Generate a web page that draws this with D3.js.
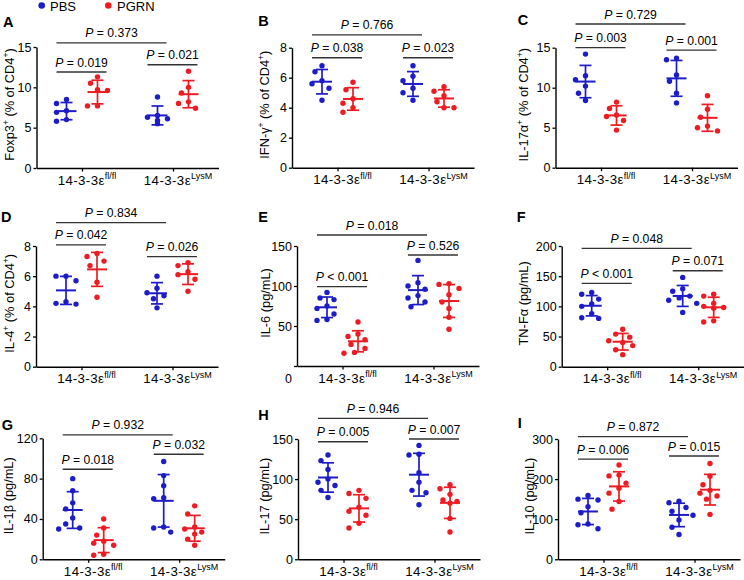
<!DOCTYPE html>
<html><head><meta charset="utf-8">
<script src="https://cdn.jsdelivr.net/npm/d3@7/dist/d3.min.js"></script>
<style>
body{margin:0;background:#fff}
svg{display:block}
text{font-family:"Liberation Sans",Arial,Helvetica,sans-serif;fill:#000}
</style>
</head><body>
<svg id="chart" width="744" height="580"></svg>
<script>
// ---------------- DATA ----------------
const series = ["PBS", "PGRN"];
const genotypes = [{base: "14-3-3ε", sup: "fl/fl"}, {base: "14-3-3ε", sup: "LysM"}];
const panelLetters = ["A", "B", "C", "D", "E", "F", "G", "H", "I"];
// y-axis titles as [text, isSuperscript] segments
const yTitles = [
  [["Foxp3", 0], ["+", 1], [" (% of CD4", 0], ["+", 1], [")", 0]],
  [["IFN-γ", 0], ["+", 1], [" (% of CD4", 0], ["+", 1], [")", 0]],
  [["IL-17α", 0], ["+", 1], [" (% of CD4", 0], ["+", 1], [")", 0]],
  [["IL-4", 0], ["+", 1], [" (% of CD4", 0], ["+", 1], [")", 0]],
  [["IL-6 (pg/mL)", 0]],
  [["TN-Fα (pg/mL)", 0]],
  [["IL-1β (pg/mL)", 0]],
  [["IL-17 (pg/mL)", 0]],
  [["IL-10 (pg/mL)", 0]]
];
const yTicks = [
  [0, 5, 10, 15], [0, 2, 4, 6, 8], [0, 5, 10, 15],
  [0, 2, 4, 6, 8], [0, 50, 100, 150], [0, 50, 100, 150, 200],
  [0, 40, 80, 120], [0, 50, 100, 150], [0, 100, 200, 300]
];
const pOverall = ["0.373", "0.766", "0.729", "0.834", "0.018", "0.048", "0.932", "0.946", "0.872"];
const pFlfl    = ["0.019", "0.038", "0.003", "0.042", "<0.001", "<0.001", "0.018", "0.005", "0.006"];
const pLysM    = ["0.021", "0.023", "0.001", "0.026", "0.526", "0.071", "0.032", "0.007", "0.015"];

// each: [PBS fl/fl, PGRN fl/fl, PBS LysM, PGRN LysM]
const foxp3 = [[8.5, 8.0, 7.1, 6.9, 6.0, 5.8], [11.3, 10.5, 9.7, 9.6, 7.7, 7.7],
               [8.8, 6.5, 6.3, 6.1, 5.9, 5.5], [12.0, 10.0, 9.3, 8.2, 8.0, 7.4]];
const ifng  = [[6.8, 6.4, 5.8, 5.6, 5.3, 4.5], [5.7, 5.2, 4.6, 4.3, 4.0, 3.7],
               [6.8, 6.1, 5.8, 5.3, 5.0, 4.5], [5.4, 5.1, 4.8, 4.4, 4.0, 4.0]];
const il17a = [[14.2, 11.5, 11.0, 10.2, 9.3, 8.4], [8.2, 7.4, 6.6, 6.4, 5.9, 4.7],
               [13.7, 13.5, 11.6, 10.8, 9.3, 8.1], [9.0, 7.3, 6.3, 5.2, 5.0, 4.6]];
const il4   = [[6.0, 6.0, 5.7, 4.3, 4.15, 4.2], [7.5, 7.3, 7.0, 6.7, 5.6, 4.6],
               [6.0, 5.2, 4.9, 4.7, 4.5, 3.9], [6.9, 6.7, 6.3, 6.1, 5.8, 5.0]];
const il6   = [[92, 85, 83, 75, 72, 65, 58, 57], [55, 40, 37, 33, 27, 22, 17, 16],
               [132, 104, 100, 96, 88, 85, 80, 74], [103, 102, 97, 89, 80, 72, 61, 46]];
const tnfa  = [[123, 120, 112, 104, 100, 88, 81, 80], [62, 54, 49, 43, 40, 35, 28, 20],
               [148, 129, 125, 117, 114, 110, 105, 90], [120, 117, 105, 100, 98, 97, 76, 74]];
const il1b  = [[80, 68, 56, 50, 41, 35, 31, 30], [40, 31, 24, 18, 16, 14, 5, 4],
               [97, 83, 73, 61, 60, 32, 31, 27], [53, 45, 32, 30, 27, 25, 20, 14]];
const il17  = [[130, 123, 112, 100, 96, 92, 86, 77], [86, 82, 76, 65, 60, 55, 45, 39],
               [142, 131, 130, 108, 96, 86, 83, 68], [93, 88, 81, 74, 72, 70, 51, 34]];
const il10  = [[159, 150, 148, 131, 116, 88, 86, 76], [235, 210, 208, 190, 177, 165, 144, 125],
               [145, 141, 129, 120, 110, 98, 80, 62], [239, 207, 186, 172, 165, 158, 150, 112]];
const panelValues = [foxp3, ifng, il17a, il4, il6, tnfa, il1b, il17, il10];

// ---------------- LAYOUT ----------------
const colors = {PBS: "#1c1cc8", PGRN: "#ee1c22"};
// ax: y-axis x; top: pixel of max tick; bottom: pixel of 0; lx/ly: letter; tx: y-title centre x
// bracket heights in data units: [overall, fl/fl, LysM]
const layout = [
  {ax: 36.5, top: 47,    bottom: 168,   lx: 3,     ly: 26.5,  tx: 9.5,   br: [15.5, 11.9, 12.8]},
  {ax: 292,  top: 47.7,  bottom: 167.7, lx: 258.3, ly: 25.7,  tx: 264.5, br: [8.85, 7.33, 7.33]},
  {ax: 555.5,top: 47.7,  bottom: 167.7, lx: 517.7, ly: 25,    tx: 523.5, br: [17.96, 15.0, 14.7]},
  {ax: 36,   top: 246,   bottom: 366.7, lx: 1,     ly: 221.7, tx: 9.5,   br: [9.55, 8.07, 7.29]},
  {ax: 297,  top: 246,   bottom: 366,   lx: 258.3, ly: 221.7, tx: 265,   br: [163.75, 99.1, 138.75], zeroShift: 12},
  {ax: 561.7,top: 246,   bottom: 366.7, lx: 516.7, ly: 221.7, tx: 523,   br: [196.2, 138.2, 159]},
  {ax: 42.7, top: 438.3, bottom: 559.3, lx: 1.7,   ly: 430,   tx: 8,     br: [123.3, 89.3, 104.2]},
  {ax: 298,  top: 439,   bottom: 559.3, lx: 258.3, ly: 420,   tx: 264.5, br: [175.8, 146.6, 150]},
  {ax: 558,  top: 439,   bottom: 559.3, lx: 517.7, ly: 428.3, tx: 529,   br: [305.7, 250, 257.6]}
];
const AXIS_W = 182;

const svg = d3.select("#chart");

// legend
const legend = svg.append("g");
[{s: "PBS", cx: 41.7, tx: 50}, {s: "PGRN", cx: 108.3, tx: 117}].forEach(d => {
  legend.append("circle").attr("cx", d.cx).attr("cy", 5.5).attr("r", 3.3).attr("fill", colors[d.s]);
  legend.append("text").attr("x", d.tx).attr("y", 10.8).attr("font-size", 13).text(d.s);
});

function swarm(vals, cx, y) {
  const pts = vals.map(v => ({v, py: y(v)})).sort((a, b) => a.py - b.py);
  const placed = [];
  const cands = [0, -7, 7, -3.5, 3.5, -10, 10, -14, 14];
  pts.forEach(p => {
    for (const c of cands) {
      if (placed.every(q => Math.hypot(q.px - (cx + c), q.py - p.py) >= 8.5)) { p.px = cx + c; break; }
    }
    if (p.px === undefined) p.px = cx;
    placed.push(p);
  });
  return pts;
}

function pLabel(sel, val) {
  sel.append("tspan").attr("font-style", "italic").text("P");
  if (val.startsWith("<")) sel.append("tspan").text(" < " + val.slice(1));
  else sel.append("tspan").text(" = " + val);
}

panelValues.forEach((vals, i) => {
  const L = layout[i];
  const g = svg.append("g");
  const ticks = yTicks[i];
  const y = d3.scaleLinear().domain([0, d3.max(ticks)]).range([L.bottom, L.top]);
  const x = d3.scalePoint().domain([0, 1]).range([L.ax, L.ax + AXIS_W]).padding(0.5);
  const dodge = d3.scalePoint().domain(series).range([-15.5, 15.5]);

  // y axis
  const ya = g.append("g").attr("transform", `translate(${L.ax},0)`)
    .call(d3.axisLeft(y).tickValues(ticks).tickSize(3).tickSizeOuter(0).tickPadding(2).tickFormat(d3.format("d")));
  ya.selectAll("text").attr("font-size", 12.5).attr("font-family", '"Liberation Sans",Arial,sans-serif');
  if (L.zeroShift) ya.selectAll(".tick").filter(d => d === 0).select("text").attr("dy", (0.32 * 12.5 + L.zeroShift) + "px");
  // x axis
  const xa = g.append("g").attr("transform", `translate(0,${L.bottom})`)
    .call(d3.axisBottom(x).tickSize(3.5).tickSizeOuter(0).tickFormat(""));
  [ya, xa].forEach(a => {
    a.select(".domain").attr("stroke", "#000").attr("stroke-width", 1.4);
    a.selectAll(".tick line").attr("stroke", "#000").attr("stroke-width", 1.3);
  });
  // x tick labels
  genotypes.forEach((gt, gi) => {
    const t = g.append("text").attr("x", x(gi) + 5).attr("y", L.bottom + 16.5)
      .attr("text-anchor", "middle").attr("font-size", 13.3).attr("letter-spacing", 0.4);
    t.append("tspan").text(gt.base);
    t.append("tspan").attr("font-size", 9).attr("dy", -5.5).attr("letter-spacing", 0).text(gt.sup);
  });
  // y title
  const yt = g.append("text")
    .attr("transform", `translate(${L.tx},${(L.top + L.bottom) / 2 - 3}) rotate(-90)`)
    .attr("text-anchor", "middle").attr("font-size", 12.8);
  const yt0 = 4.5;
  let shift = 0;
  yTitles[i].forEach(([s, sup], k) => {
    const target = sup ? -5 : 0;
    const dy = (k === 0 ? yt0 : 0) + target - shift;
    shift = target;
    yt.append("tspan").attr("font-size", sup ? 8.5 : 12.8).attr("dy", dy).text(s);
  });
  // panel letter
  g.append("text").attr("x", L.lx).attr("y", L.ly).attr("font-size", 14.5).attr("font-weight", "bold").text(panelLetters[i]);

  // groups
  const groupCx = [];
  vals.forEach((v, k) => {
    const gi = Math.floor(k / 2), s = series[k % 2];
    const cx = x(gi) + dodge(s);
    groupCx.push(cx);
    const col = colors[s];
    const m = d3.mean(v), sd = d3.deviation(v);
    const pts = swarm(v, cx, y);
    g.selectAll(null).data(pts).join("circle")
      .attr("cx", d => d.px).attr("cy", d => d.py).attr("r", 2.7).attr("fill", col);
    g.append("line").attr("x1", cx).attr("x2", cx).attr("y1", y(m + sd)).attr("y2", y(m - sd))
      .attr("stroke", col).attr("stroke-width", 1.7);
    [m + sd, m - sd].forEach(e => g.append("line").attr("x1", cx - 6).attr("x2", cx + 6)
      .attr("y1", y(e)).attr("y2", y(e)).attr("stroke", col).attr("stroke-width", 1.7));
    g.append("line").attr("x1", cx - 10).attr("x2", cx + 10).attr("y1", y(m)).attr("y2", y(m))
      .attr("stroke", col).attr("stroke-width", 2);
  });

  // brackets
  const brackets = [
    {a: groupCx[0], b: groupCx[2], h: L.br[0], p: pOverall[i]},
    {a: groupCx[0], b: groupCx[1], h: L.br[1], p: pFlfl[i]},
    {a: groupCx[2], b: groupCx[3], h: L.br[2], p: pLysM[i]}
  ];
  brackets.forEach(b => {
    const x1 = b.a - 10, x2 = b.b + 9, yy = y(b.h);
    g.append("line").attr("x1", x1).attr("x2", x2).attr("y1", yy).attr("y2", yy)
      .attr("stroke", "#333").attr("stroke-width", 1.3);
    const t = g.append("text").attr("x", (x1 + x2) / 2).attr("y", yy - 5.5)
      .attr("text-anchor", "middle").attr("font-size", 12.2);
    pLabel(t, b.p);
  });
});
</script>
</body></html>
